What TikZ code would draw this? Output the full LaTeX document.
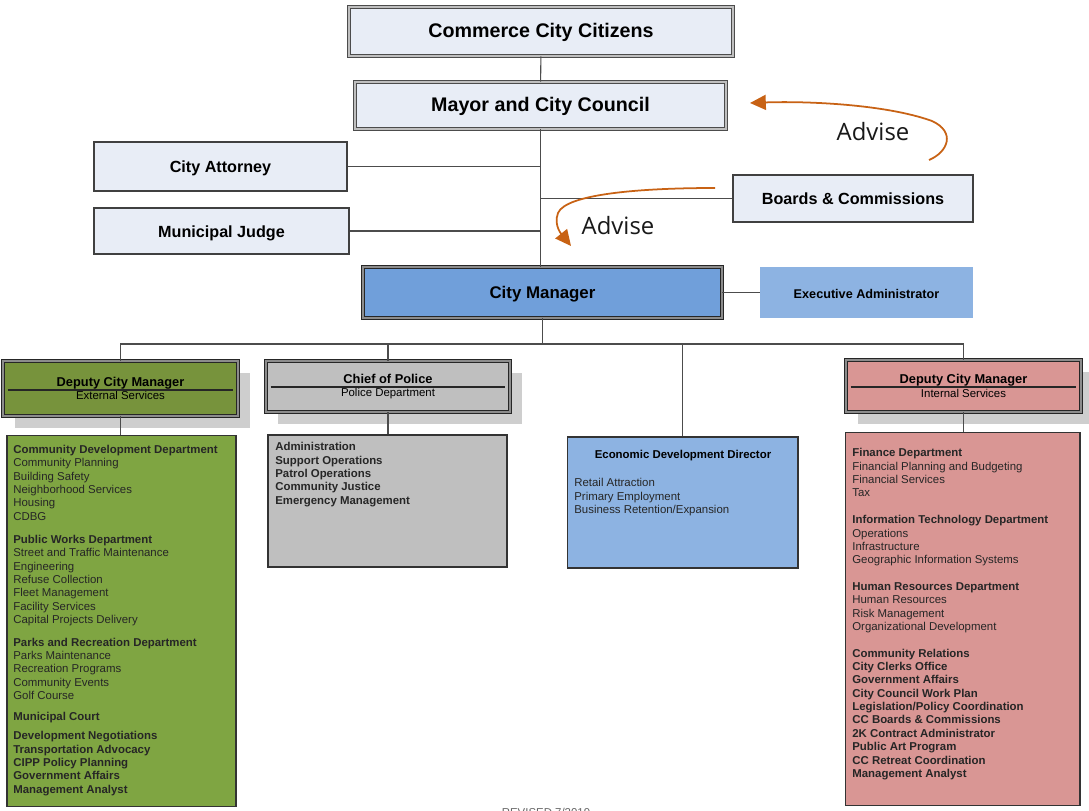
\documentclass[tikz,border=0pt]{standalone}
\usepackage{fontspec}
\setmainfont{Liberation Sans}
\newfontfamily\advfont{Open Sans}
\usetikzlibrary{arrows.meta,shadows}
\definecolor{topfill}{RGB}{232,237,246}
\definecolor{cmblue}{RGB}{112,159,218}
\definecolor{exblue}{RGB}{141,179,226}
\definecolor{olivehd}{RGB}{119,147,60}
\definecolor{olivebox}{RGB}{127,165,66}
\definecolor{policegray}{RGB}{191,191,191}
\definecolor{pinkbox}{RGB}{217,150,148}
\definecolor{shadowgray}{RGB}{206,206,206}
\definecolor{adviseorange}{RGB}{200,98,20}
\tikzset{
  capmid/.style={text height=0.72em, text depth=0pt},
  topbox/.style={draw=black!70, double=black!25, double distance=1.2pt, line width=0.5pt, fill=topfill, inner sep=0pt, font=\fontsize{11.2}{13}\selectfont\bfseries, capmid},
  sidebox/.style={draw=black!75, line width=0.7pt, fill=topfill, inner sep=0pt, font=\fontsize{9.2}{11}\selectfont\bfseries, capmid},
  hdbox/.style={draw=black!85, double=black!45, double distance=1pt, line width=0.5pt, inner sep=0pt, align=center, font=\fontsize{7.3}{7.6}\selectfont, general shadow={fill=shadowgray, shadow xshift=0.24cm, shadow yshift=-0.24cm}},
  listbox/.style={draw=black!80, line width=0.6pt, inner sep=0pt},
  listtext/.style={anchor=north west, inner sep=0pt, align=left, font=\fontsize{6.5}{7.6}\selectfont, text=black!85},
  link/.style={draw=black!70, line width=0.6pt},
  advise/.style={draw=adviseorange, line width=1pt, -{Triangle[length=9pt,width=8.5pt]}},
  advtext/.style={inner sep=0pt, font=\advfont\fontsize{13.6}{15}\selectfont, text=black!90}
}
\newcommand{\subtl}{\fontsize{6.5}{7.6}\selectfont}
\begin{document}
\begin{tikzpicture}[x=0.02cm, y=-0.02cm]
  \useasboundingbox[fill=white] (0,0) rectangle (1089,811);

  % Top of the chart
  \node[topbox, minimum width=7.68cm, minimum height=0.98cm] (cit) at (541,31.5) {Commerce City Citizens};
  \node[topbox, minimum width=7.42cm, minimum height=0.94cm] (may) at (540.5,105.5) {Mayor and City Council};
  \node[sidebox, minimum width=5.06cm, minimum height=0.98cm] (att) at (220.5,166.5) {City Attorney};
  \node[sidebox, minimum width=5.10cm, minimum height=0.92cm] (jud) at (221.5,231) {Municipal Judge};
  \node[sidebox, minimum width=4.80cm, minimum height=0.94cm] (bds) at (853,198.5) {Boards \& Commissions};

  % City manager row
  \node[draw=black!85, double=black!45, double distance=1.2pt, line width=0.5pt, fill=cmblue, inner sep=0pt, capmid,
        minimum width=7.18cm, minimum height=1.02cm, font=\fontsize{9.6}{11}\selectfont\bfseries] (cm) at (542.5,292.5) {City Manager};
  \node[fill=exblue, inner sep=0pt, capmid, minimum width=4.26cm, minimum height=1.02cm,
        font=\fontsize{7.2}{8}\selectfont\bfseries] (exa) at (866.5,292.5) {Executive Administrator};

  % Links at the top
  \draw[link] (cit) -- (may);
  \draw[link] (may.south) -- (may.south |- cm.north);
  \draw[link] (att.east) -- (att.east -| may.south);
  \draw[link] (jud.east) -- (jud.east -| may.south);
  \draw[link] (bds.west) -- (bds.west -| may.south);
  \draw[link] (cm.east) -- (exa.west);

  % Department heads
  \node[hdbox, fill=olivehd, minimum width=4.70cm, minimum height=1.10cm] (dce) at (120.5,388.5)
       {\textbf{Deputy City Manager}\\{\subtl External Services}};
  \node[hdbox, fill=policegray, minimum width=4.88cm, minimum height=1.02cm] (cop) at (388,386.5)
       {\textbf{Chief of Police}\\{\subtl Police Department}};
  \node[hdbox, fill=pinkbox, minimum width=4.70cm, minimum height=1.04cm] (dci) at (963.5,386)
       {\textbf{Deputy City Manager}\\{\subtl Internal Services}};
  \draw[black!85, line width=0.6pt] ([shift={(5,1.5)}]dce.west) -- ([shift={(-5,1.5)}]dce.east);
  \draw[black!85, line width=0.6pt] ([shift={(5,0.5)}]cop.west) -- ([shift={(-5,0.5)}]cop.east);
  \draw[black!85, line width=0.6pt] ([shift={(5,1)}]dci.west) -- ([shift={(-5,1)}]dci.east);

  % Lists under the heads
  \node[listbox, fill=olivebox, minimum width=4.58cm, minimum height=7.44cm] (extl) at (121.5,621) {};
  \node[listbox, fill=policegray, minimum width=4.78cm, minimum height=2.64cm] (pdl) at (387.5,501) {};
  \node[listbox, fill=exblue, minimum width=4.62cm, minimum height=2.62cm] (edd) at (682.5,502.5) {};
  \node[listbox, fill=pinkbox, minimum width=4.70cm, minimum height=7.48cm] (intl) at (962.5,619) {};

  % Bus under the city manager
  \coordinate (bus) at (541,344);
  \draw[link] (cm.south) -- (cm.south |- bus);
  \draw[link] (dce.north) |- (dci.north |- bus) -- (dci.north);
  \draw[link] (cop.north) -- (cop.north |- bus);
  \draw[link] (edd.north) -- (edd.north |- bus);
  \draw[link] (dce.south) -- (dce.south |- extl.north);
  \draw[link] (cop.south) -- (cop.south |- pdl.north);
  \draw[link] (dci.south) -- (dci.south |- intl.north);

  % Texts of the lists
  \node[listtext] (extt) at (13,444.8) {\textbf{Community Development Department}\\
    Community Planning\\Building Safety\\Neighborhood Services\\Housing\\CDBG\\[5.7pt]
    \textbf{Public Works Department}\\
    Street and Traffic Maintenance\\Engineering\\Refuse Collection\\Fleet Management\\Facility Services\\Capital Projects Delivery\\[5.2pt]
    \textbf{Parks and Recreation Department}\\
    Parks Maintenance\\Recreation Programs\\Community Events\\Golf Course\\[4.5pt]
    \textbf{Municipal Court}\\[3.2pt]
    \textbf{Development Negotiations}\\\textbf{Transportation Advocacy}\\\textbf{CIPP Policy Planning}\\
    \textbf{Government Affairs}\\\textbf{Management Analyst}};
  \node[listtext, font=\fontsize{6.5}{7.6}\selectfont\bfseries] (pdt) at (275,442.3)
    {Administration\\Support Operations\\Patrol Operations\\Community Justice\\Emergency Management};
  \node[inner sep=0pt, anchor=north, font=\fontsize{6.5}{7.6}\selectfont\bfseries] (eddt) at (683,450.3) {Economic Development Director};
  \node[listtext] (eddl) at (574,478.3) {Retail Attraction\\Primary Employment\\Business Retention/Expansion};
  \node[listtext] (intt) at (852,448.3) {\textbf{Finance Department}\\
    Financial Planning and Budgeting\\Financial Services\\Tax\\[7.6pt]
    \textbf{Information Technology Department}\\
    Operations\\Infrastructure\\Geographic Information Systems\\[7.6pt]
    \textbf{Human Resources Department}\\
    Human Resources\\Risk Management\\Organizational Development\\[7.6pt]
    \textbf{Community Relations}\\\textbf{City Clerks Office}\\\textbf{Government Affairs}\\
    \textbf{City Council Work Plan}\\\textbf{Legislation/Policy Coordination}\\\textbf{CC Boards \& Commissions}\\
    \textbf{2K Contract Administrator}\\\textbf{Public Art Program}\\\textbf{CC Retreat Coordination}\\
    \textbf{Management Analyst}};

  % Advise arrows
  \coordinate (adv1s) at (929,160);
  \coordinate (adv1e) at (750,103);
  \coordinate (adv2s) at (715,188);
  \coordinate (adv2e) at (571,246);
  \draw[advise] (adv1s) .. controls (948,152) and (956,132) .. (932,121) .. controls (885,104) and (805,101) .. (adv1e);
  \draw[advise] (adv2s) .. controls (640,188) and (566,194) .. (558,213) .. controls (553,226) and (563,236) .. (adv2e);
  \node[advtext] (adv1l) at (873,132) {Advise};
  \node[advtext] (adv2l) at (618,226) {Advise};

  % Cut off at the bottom, as in the scan
  \node[inner sep=0pt, anchor=north, text=black!60, font=\fontsize{6.5}{7.6}\selectfont] (rev) at (546,807.5) {REVISED 7/2019};
\end{tikzpicture}
\end{document}
